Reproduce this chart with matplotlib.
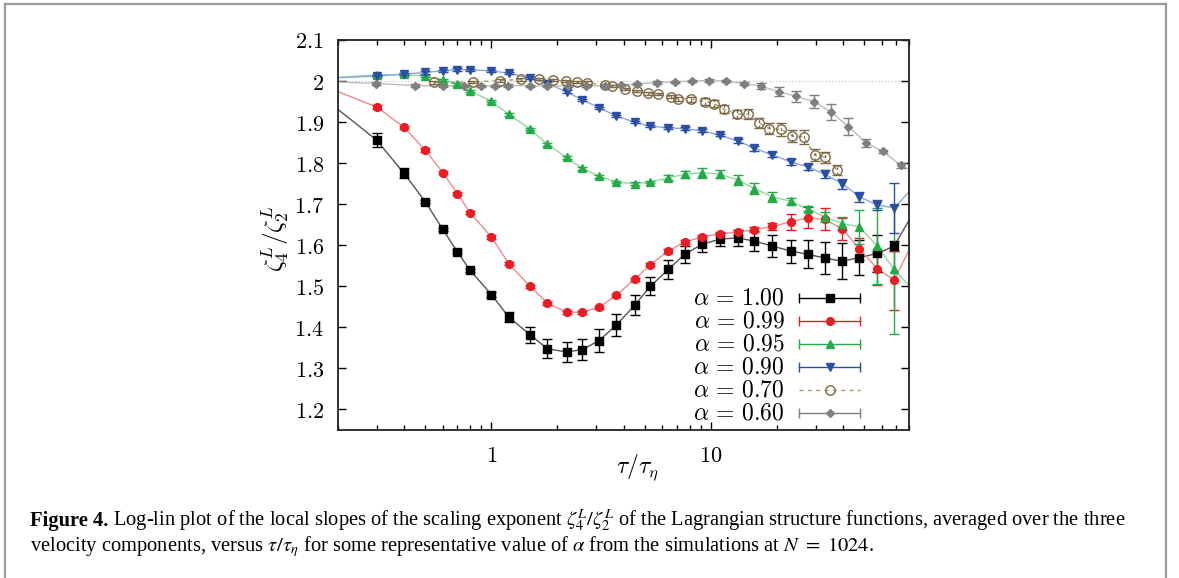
import matplotlib
matplotlib.use('Agg')
import matplotlib.pyplot as plt
from matplotlib.lines import Line2D
from matplotlib.ticker import FixedLocator, FixedFormatter, NullFormatter

plt.rcParams['mathtext.fontset'] = 'cm'
plt.rcParams['font.family'] = ['DejaVu Serif']

# ---- values ----
# common lags for alpha = 1.00, 0.99, 0.95, 0.90
tau = [0.3, 0.4, 0.5, 0.6, 0.7, 0.8, 1.0, 1.2, 1.5, 1.8, 2.2, 2.6, 3.1, 3.7, 4.5,
       5.3, 6.4, 7.6, 9.1, 11.0, 13.3, 15.8, 19.1, 23.1, 27.6, 33.0, 39.8, 47.5, 57.4, 68.5]

a100 = [1.856, 1.775, 1.706, 1.639, 1.584, 1.539, 1.480, 1.425, 1.382, 1.348, 1.340, 1.346,
        1.368, 1.405, 1.454, 1.500, 1.541, 1.578, 1.602, 1.615, 1.618, 1.610, 1.598, 1.586,
        1.578, 1.569, 1.561, 1.570, 1.580, 1.598]
e100 = [0.017, 0.012, 0.004, 0.004, 0.004, 0.004, 0.005, 0.013, 0.019, 0.023, 0.025, 0.026,
        0.027, 0.027, 0.024, 0.022, 0.023, 0.021, 0.018, 0.016, 0.020, 0.025, 0.026, 0.028,
        0.034, 0.039, 0.044, 0.043, 0.045, 0.012]

a099 = [1.937, 1.887, 1.832, 1.777, 1.726, 1.679, 1.620, 1.555, 1.500, 1.459, 1.437, 1.437,
        1.449, 1.478, 1.517, 1.553, 1.586, 1.608, 1.620, 1.628, 1.632, 1.638, 1.646, 1.657,
        1.667, 1.663, 1.640, 1.591, 1.543, 1.515]
e099 = [0.004] * 20 + [0.006, 0.006, 0.008, 0.020, 0.026, 0.027, 0.027, 0.026, 0.040, 0.072]

a095 = [2.015, 2.016, 2.012, 2.002, 1.992, 1.976, 1.951, 1.919, 1.883, 1.846, 1.814, 1.787,
        1.768, 1.754, 1.750, 1.754, 1.764, 1.773, 1.777, 1.773, 1.759, 1.738, 1.718, 1.707,
        1.689, 1.669, 1.653, 1.645, 1.598, 1.541]
e095 = [0.003] * 16 + [0.006, 0.008, 0.012, 0.010, 0.013, 0.014, 0.012, 0.008, 0.006, 0.012,
                       0.015, 0.041, 0.093, 0.158]

a090 = [2.012, 2.017, 2.021, 2.025, 2.028, 2.027, 2.025, 2.019, 2.007, 1.994, 1.974, 1.954,
        1.935, 1.915, 1.900, 1.890, 1.886, 1.884, 1.879, 1.868, 1.854, 1.836, 1.820, 1.803,
        1.791, 1.773, 1.750, 1.718, 1.698, 1.691]
e090 = [0.003] * 20 + [0.006, 0.006, 0.006, 0.008, 0.008, 0.010, 0.012, 0.012, 0.013, 0.061]

tau070 = [0.548, 0.825, 1.099, 1.366, 1.641, 1.899, 2.19, 2.46, 2.73, 3.31, 3.55, 4.08, 4.59,
          5.15, 5.72, 6.58, 7.12, 8.16, 9.39, 10.35, 11.5, 13.1, 14.8, 16.6, 18.5, 20.9,
          23.5, 26.5, 29.7, 33.3, 37.6]
a070 = [1.997, 1.998, 2.001, 2.004, 2.005, 2.002, 2.000, 1.998, 1.996, 1.990, 1.988, 1.980,
        1.976, 1.970, 1.968, 1.962, 1.957, 1.956, 1.950, 1.945, 1.931, 1.920, 1.919, 1.898,
        1.884, 1.882, 1.866, 1.864, 1.820, 1.814, 1.783]
e070 = [0.003] * 16 + [0.005, 0.006, 0.008, 0.008, 0.010, 0.010, 0.012, 0.013, 0.013, 0.015,
                       0.015, 0.017, 0.015, 0.014, 0.012]

tau060 = [0.299, 0.450, 0.600, 0.754, 0.898, 1.04, 1.195, 1.50, 1.79, 2.24, 2.70, 3.30, 3.89,
          4.62, 5.66, 6.86, 8.17, 9.79, 11.7, 14.1, 16.9, 20.4, 24.4, 29.4, 35.2, 42.4, 50.8,
          60.7, 73.3]
a060 = [1.994, 1.989, 1.988, 1.988, 1.988, 1.988, 1.989, 1.988, 1.988, 1.988, 1.988, 1.989,
        1.990, 1.993, 1.996, 1.998, 2.000, 2.001, 2.000, 1.994, 1.988, 1.974, 1.963, 1.950,
        1.925, 1.889, 1.850, 1.829, 1.795]
e060 = [0.003] * 19 + [0.004, 0.008, 0.011, 0.013, 0.016, 0.020, 0.020, 0.010, 0.004, 0.006]

# where the smoothed curves meet the left / right frame
edge_left = {'1.00': 1.931, '0.99': 1.974, '0.95': 2.009, '0.90': 2.008, '0.60': 1.998}
edge_right = {'1.00': 1.661, '0.99': 1.588, '0.95': 1.502, '0.90': 1.730, '0.60': 1.785}

alpha_labels = ['1.00', '0.99', '0.95', '0.90', '0.70', '0.60']
yticks = [1.2, 1.3, 1.4, 1.5, 1.6, 1.7, 1.8, 1.9, 2.0, 2.1]
ytick_labels = ['1.2', '1.3', '1.4', '1.5', '1.6', '1.7', '1.8', '1.9', '2', '2.1']
xticks = [1, 10]
xtick_labels = ['1', '10']
xlim = (0.2, 80)
ylim = (1.15, 2.1)
ref_level = 2.0

series = {
    '1.00': dict(x=tau, y=a100, e=e100, m='s', ms=5.5, c='#000000', lc='#555555', fill=True),
    '0.99': dict(x=tau, y=a099, e=e099, m='o', ms=5.6, c='#ec1c24', lc='#f4898b', fill=True),
    '0.95': dict(x=tau, y=a095, e=e095, m='^', ms=5.3, c='#22ab47', lc='#8fd99a', fill=True),
    '0.90': dict(x=tau, y=a090, e=e090, m='v', ms=5.3, c='#2b4fa3', lc='#8ea6dc', fill=True),
    '0.70': dict(x=tau070, y=a070, e=e070, m='o', ms=6.8, c='#7d6a45', lc='#a8987a', fill=False),
    '0.60': dict(x=tau060, y=a060, e=e060, m='D', ms=4.2, c='#7f7f7f', lc='#bdbdbd', fill=True),
}

fig = plt.figure(figsize=(11.79, 5.78), dpi=100)
ax = fig.add_axes([338 / 1179, 148 / 578, 571 / 1179, 390 / 578])
ax.set_xscale('log')

ax.axhline(ref_level, color='#c8c8c8', ls=':', lw=0.9, zorder=1)

for key in alpha_labels:
    s = series[key]
    if key in edge_left:
        lx = [xlim[0]] + list(s['x']) + [xlim[1]]
        ly = [edge_left[key]] + list(s['y']) + [edge_right[key]]
        ax.plot(lx, ly, color=s['lc'], lw=1.0, zorder=2)
    else:
        ax.plot(s['x'], s['y'], color=s['lc'], lw=1.0, ls=(0, (3, 3)), zorder=2)
    eb = ax.errorbar(s['x'], s['y'], yerr=s['e'], fmt=s['m'], ms=s['ms'],
                     mfc=s['c'] if s['fill'] else 'none', mec=s['c'], mew=1.0,
                     ecolor=s['c'], elinewidth=1.0, capsize=3.5, capthick=1.0, zorder=3)
    if not s['fill']:
        eb[2][0].set_linestyle((0, (2, 2)))

ax.set_xlim(*xlim)
ax.set_ylim(*ylim)
ax.xaxis.set_major_locator(FixedLocator(xticks))
ax.xaxis.set_major_formatter(FixedFormatter(['$%s$' % t for t in xtick_labels]))
ax.xaxis.set_minor_formatter(NullFormatter())
ax.set_yticks(yticks)
ax.set_yticklabels(['$%s$' % t for t in ytick_labels])
ax.tick_params(which='both', direction='in', top=True, right=True, labelsize=16, width=1.0)
ax.tick_params(which='major', length=6)
ax.tick_params(which='minor', length=3.5)
ax.tick_params(axis='y', pad=10)
ax.tick_params(axis='x', pad=11)
for sp in ax.spines.values():
    sp.set_linewidth(1.3)
    sp.set_color('#222222')

ax.text(-0.108, 0.49, r'$\zeta_4^L/\zeta_2^L$', rotation=90, ha='center', va='center',
        transform=ax.transAxes, fontsize=18)
ax.text(0.524, -0.097, r'$\tau/\tau_\eta$', ha='center', va='center',
        transform=ax.transAxes, fontsize=17)

# legend, gnuplot style (label on the left, sample on the right)
row_y = [0.338, 0.279, 0.221, 0.162, 0.103, 0.044]
for key, yy in zip(alpha_labels, row_y):
    s = series[key]
    ax.text(0.783, yy, r'$\alpha\,=\,%s$' % key, ha='right', va='center',
            transform=ax.transAxes, fontsize=17)
    if s['fill']:
        ax.plot([0.807, 0.914], [yy, yy], color=s['c'], lw=1.0, marker='|', ms=7,
                mew=1.0, transform=ax.transAxes, zorder=4)
    else:
        ax.plot([0.807, 0.914], [yy, yy], color=s['lc'], lw=1.0, ls=(0, (3, 3)),
                transform=ax.transAxes, zorder=4)
    ax.plot([0.862], [yy], marker=s['m'], ms=s['ms'], color=s['c'],
            mfc=s['c'] if s['fill'] else 'none', mec=s['c'], mew=1.0,
            transform=ax.transAxes, zorder=5)

# page frame
frame_c = '#9a9a9a'
fig.add_artist(Line2D([5 / 1179, 5 / 1179], [0, 1 - 4 / 578], color=frame_c, lw=1.6,
                      transform=fig.transFigure))
fig.add_artist(Line2D([5 / 1179, 1166 / 1179], [1 - 4 / 578, 1 - 4 / 578], color=frame_c,
                      lw=1.6, transform=fig.transFigure))
fig.add_artist(Line2D([1166 / 1179, 1166 / 1179], [0, 1 - 4 / 578], color=frame_c, lw=1.6,
                      transform=fig.transFigure))

# caption
cap1 = (r' Log-lin plot of the local slopes of the scaling exponent $\zeta_4^L/\zeta_2^L$ '
        r'of the Lagrangian structure functions, averaged over the three')
cap2 = (r'velocity components, versus $\tau/\tau_\eta$ for some representative value of '
        r'$\alpha$ from the simulations at $N\ =\ 1024$.')
x0 = 30 / 1179
target_w = 1094
cap_kw = dict(family='Liberation Serif', math_fontfamily='stix', va='baseline')
tb = fig.text(x0, 1 - 526 / 578, 'Figure 4.', fontweight='bold', **cap_kw)
t1 = fig.text(x0, 1 - 526 / 578, cap1, **cap_kw)
t2 = fig.text(x0, 1 - 551 / 578, cap2, **cap_kw)
renderer = fig.canvas.get_renderer()
size = 13.0
for _ in range(3):
    for t in (tb, t1, t2):
        t.set_fontsize(size)
    wb = tb.get_window_extent(renderer).width
    t1.set_x(x0 + wb / 1179)
    total = wb + t1.get_window_extent(renderer).width
    size = size * target_w / total

fig.savefig('out.png', dpi=100)
